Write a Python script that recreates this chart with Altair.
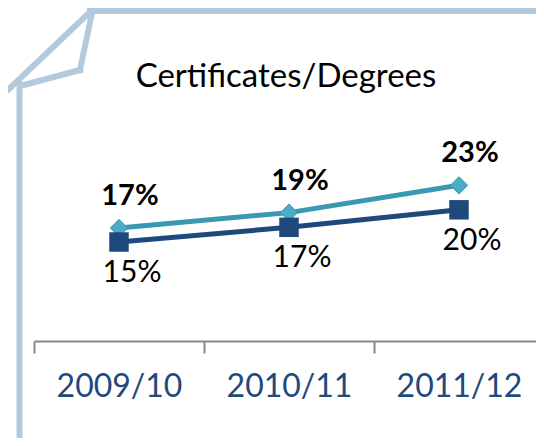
import altair as alt
import pandas as pd

years = ["2009/10", "2010/11", "2011/12"]
teal_values = [17.0, 19.2, 23.1]
navy_values = [15.0, 17.1, 19.6]
title_text = "Certificates/Degrees"

TEAL_LINE = "#3a98b0"
TEAL_MARK = "#4bacc6"
NAVY = "#1f497d"
FRAME = "#b3c9de"
AXIS_GRAY = "#878787"

df = pd.DataFrame({
    "year": years * 2,
    "series": ["teal"] * 3 + ["navy"] * 3,
    "value": teal_values + navy_values,
})

W, H = 502, 241
x = alt.X("year:N", sort=years,
          scale=alt.Scale(type="band", paddingInner=0, paddingOuter=0, range=[0, 510]),
          axis=alt.Axis(title=None, tickBand="extent", domainColor=AXIS_GRAY, domainWidth=2,
                        tickColor=AXIS_GRAY, tickWidth=2, tickSize=12, labelFont="Lato",
                        labelFontSize=32, labelColor=NAVY, labelPadding=18, labelAngle=0,
                        grid=False))
y = alt.Y("value:Q", scale=alt.Scale(domain=[0.857, 35.29], nice=False, zero=False), axis=None)

base = alt.Chart(df).transform_calculate(
    label="format(datum.value, '.0f') + '%'"
)

teal = base.transform_filter(alt.datum.series == "teal")
navy = base.transform_filter(alt.datum.series == "navy")

teal_line = teal.mark_line(color=TEAL_LINE, strokeWidth=5).encode(x=x, y=y)
teal_pts = teal.mark_point(shape="diamond", filled=True, size=300, color=TEAL_MARK, opacity=1,
                           stroke=TEAL_LINE, strokeWidth=1).encode(x=x, y=y)
navy_line = navy.mark_line(color=NAVY, strokeWidth=5).encode(x=x, y=y)
navy_pts = navy.mark_point(shape="square", filled=True, size=380, color=NAVY, opacity=1).encode(x=x, y=y)
teal_lbl = teal.mark_text(font="Lato", fontSize=29, fontWeight="bold", color="black",
                          dx=11, dy=-32).encode(x=x, y=y, text="label:N")
navy_lbl = navy.mark_text(font="Lato", fontSize=30, color="black",
                          dx=13, dy=31).encode(x=x, y=y, text="label:N")

title = alt.Chart(alt.Data(values=[{}])).mark_text(
    text=title_text, font="Lato", fontSize=33, color="black", baseline="alphabetic", align="center"
).encode(x=alt.value(252), y=alt.value(-13))

segments = [
    (56, -89, 530, -89),
    (57, -89, -25, -11),
    (58, -87, 46, -30),
    (46, -30, -14, -14),
    (-14.5, -16, -14.5, 360),
]
frame_layers = [
    alt.Chart(alt.Data(values=[{}])).mark_rule(color=FRAME, strokeWidth=6, strokeCap="square").encode(
        x=alt.value(a), y=alt.value(b), x2=alt.value(c), y2=alt.value(d))
    for a, b, c, d in segments
]

chart = alt.layer(
    *frame_layers, title, teal_line, teal_pts, navy_line, navy_pts, teal_lbl, navy_lbl
).properties(
    width=W, height=H,
    padding={"left": 26, "top": 92, "right": 0, "bottom": 97},
    autosize=alt.AutoSizeParams(type="none"),
).configure_view(stroke=None)

chart.save("out.html", embed_options={"renderer": "svg", "actions": False})
